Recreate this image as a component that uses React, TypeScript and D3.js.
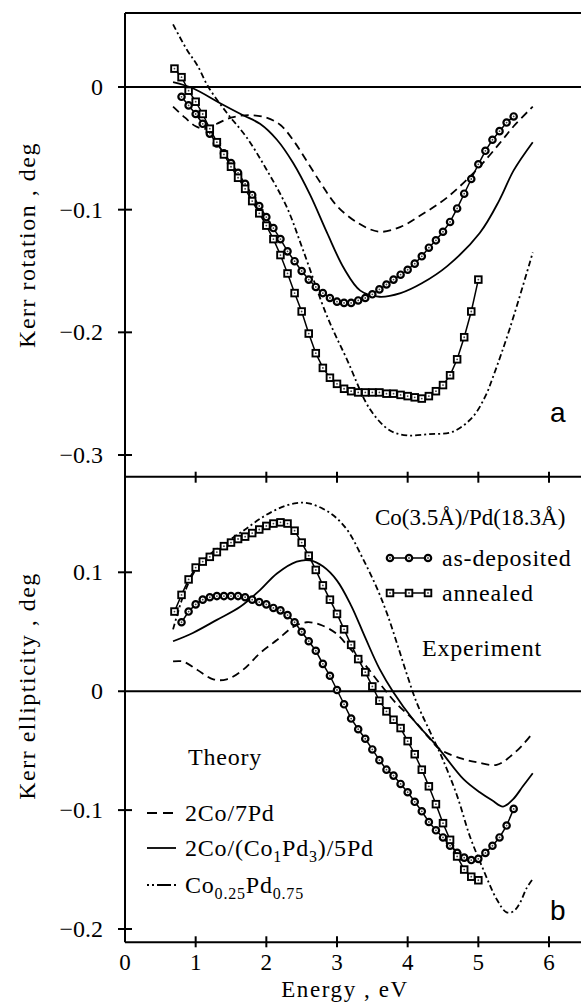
import React from "react";
import * as d3 from "d3";

const W = 581;
const H = 1002;

const xTicks = [0, 1, 2, 3, 4, 5, 6];
const rotTicks = [0, -0.1, -0.2, -0.3];
const ellTicks = [0.1, 0, -0.1, -0.2];

// Experiment, Co(3.5Å)/Pd(18.3Å): photon energy (eV)
const depEnergy = [0.8, 0.9, 1.0, 1.1, 1.2, 1.3, 1.4, 1.5, 1.6, 1.7, 1.8, 1.9, 2.0, 2.1, 2.2, 2.3, 2.4, 2.5, 2.6, 2.7, 2.8, 2.9, 3.0, 3.1, 3.2, 3.3, 3.4, 3.5, 3.6, 3.7, 3.8, 3.9, 4.0, 4.1, 4.2, 4.3, 4.4, 4.5, 4.6, 4.7, 4.8, 4.9, 5.0, 5.1, 5.2, 5.3, 5.4, 5.5];
const annEnergy = [0.7, 0.8, 0.9, 1.0, 1.1, 1.2, 1.3, 1.4, 1.5, 1.6, 1.7, 1.8, 1.9, 2.0, 2.1, 2.2, 2.3, 2.4, 2.5, 2.6, 2.7, 2.8, 2.9, 3.0, 3.1, 3.2, 3.3, 3.4, 3.5, 3.6, 3.7, 3.8, 3.9, 4.0, 4.1, 4.2, 4.3, 4.4, 4.5, 4.6, 4.7, 4.8, 4.9, 5.0];

// Kerr rotation (deg)
const rotDeposited = [-0.008, -0.015, -0.022, -0.030, -0.038, -0.046, -0.054, -0.062, -0.070, -0.079, -0.088, -0.097, -0.106, -0.115, -0.124, -0.134, -0.142, -0.150, -0.157, -0.163, -0.168, -0.172, -0.175, -0.176, -0.176, -0.174, -0.172, -0.169, -0.165, -0.161, -0.157, -0.153, -0.149, -0.144, -0.138, -0.131, -0.125, -0.118, -0.110, -0.099, -0.087, -0.075, -0.063, -0.052, -0.043, -0.036, -0.029, -0.024];
const rotAnnealed = [0.015, 0.008, -0.003, -0.012, -0.022, -0.034, -0.045, -0.055, -0.065, -0.074, -0.083, -0.093, -0.103, -0.113, -0.124, -0.137, -0.152, -0.168, -0.183, -0.201, -0.217, -0.229, -0.237, -0.242, -0.246, -0.248, -0.249, -0.249, -0.249, -0.249, -0.250, -0.250, -0.251, -0.252, -0.253, -0.254, -0.252, -0.248, -0.243, -0.235, -0.222, -0.204, -0.183, -0.157];

// Kerr ellipticity (deg)
const ellDeposited = [0.058, 0.067, 0.073, 0.077, 0.079, 0.080, 0.080, 0.080, 0.080, 0.079, 0.077, 0.075, 0.073, 0.070, 0.068, 0.064, 0.058, 0.050, 0.042, 0.034, 0.023, 0.013, 0.001, -0.011, -0.023, -0.032, -0.040, -0.049, -0.058, -0.066, -0.071, -0.078, -0.085, -0.093, -0.101, -0.110, -0.117, -0.123, -0.130, -0.136, -0.140, -0.142, -0.141, -0.136, -0.130, -0.123, -0.113, -0.099];
const ellAnnealed = [0.067, 0.081, 0.094, 0.104, 0.109, 0.113, 0.117, 0.122, 0.125, 0.128, 0.130, 0.133, 0.136, 0.139, 0.141, 0.142, 0.141, 0.135, 0.125, 0.114, 0.102, 0.089, 0.077, 0.065, 0.052, 0.039, 0.027, 0.016, 0.004, -0.008, -0.017, -0.024, -0.031, -0.042, -0.053, -0.066, -0.080, -0.095, -0.111, -0.125, -0.139, -0.150, -0.156, -0.159];

// Theory: [energy, value]
const rot2Co7Pd: [number, number][] = [[0.68, -0.016], [0.85, -0.025], [1.0, -0.032], [1.15, -0.034], [1.3, -0.03], [1.5, -0.025], [1.75, -0.023], [2.0, -0.025], [2.2, -0.031], [2.4, -0.045], [2.6, -0.063], [2.8, -0.081], [3.0, -0.097], [3.3, -0.111], [3.6, -0.118], [3.9, -0.114], [4.2, -0.104], [4.56, -0.09], [5.0, -0.066], [5.3, -0.046], [5.5, -0.032], [5.77, -0.016]];
const rotCoPdLayer: [number, number][] = [[0.68, 0.004], [0.96, -0.001], [1.34, -0.013], [1.67, -0.023], [1.91, -0.03], [2.15, -0.043], [2.38, -0.062], [2.62, -0.088], [2.86, -0.119], [3.1, -0.148], [3.33, -0.166], [3.6, -0.171], [3.9, -0.168], [4.2, -0.16], [4.56, -0.146], [5.02, -0.119], [5.3, -0.092], [5.5, -0.068], [5.77, -0.045]];
const rotAlloy: [number, number][] = [[0.68, 0.051], [0.88, 0.03], [1.02, 0.018], [1.18, 0.0], [1.44, -0.021], [1.72, -0.041], [2.0, -0.067], [2.29, -0.098], [2.52, -0.133], [2.86, -0.187], [3.14, -0.222], [3.47, -0.263], [3.75, -0.28], [3.99, -0.284], [4.3, -0.283], [4.64, -0.281], [4.92, -0.269], [5.1, -0.252], [5.21, -0.236], [5.45, -0.196], [5.77, -0.135]];

const ell2Co7Pd: [number, number][] = [[0.68, 0.025], [0.82, 0.025], [1.02, 0.018], [1.25, 0.01], [1.44, 0.01], [1.67, 0.018], [1.91, 0.032], [2.15, 0.043], [2.38, 0.054], [2.57, 0.058], [2.76, 0.056], [3.0, 0.048], [3.18, 0.036], [3.4, 0.022], [3.61, 0.006], [3.85, -0.011], [4.08, -0.024], [4.3, -0.039], [4.46, -0.049], [4.78, -0.057], [5.0, -0.06], [5.26, -0.062], [5.45, -0.055], [5.63, -0.045], [5.77, -0.035]];
const ellCoPdLayer: [number, number][] = [[0.68, 0.042], [0.96, 0.049], [1.3, 0.06], [1.63, 0.071], [1.91, 0.085], [2.15, 0.099], [2.43, 0.109], [2.62, 0.11], [2.8, 0.105], [3.0, 0.093], [3.2, 0.072], [3.4, 0.045], [3.6, 0.019], [3.8, -0.001], [4.08, -0.024], [4.41, -0.046], [4.79, -0.074], [5.02, -0.085], [5.2, -0.092], [5.35, -0.097], [5.49, -0.091], [5.63, -0.08], [5.77, -0.069]];
const ellAlloy: [number, number][] = [[0.68, 0.052], [0.8, 0.076], [0.9, 0.091], [1.0, 0.102], [1.2, 0.115], [1.5, 0.128], [1.7, 0.136], [1.91, 0.145], [2.15, 0.153], [2.4, 0.158], [2.6, 0.158], [2.9, 0.15], [3.14, 0.136], [3.37, 0.111], [3.57, 0.086], [3.71, 0.065], [3.85, 0.04], [3.99, 0.014], [4.13, -0.01], [4.3, -0.032], [4.48, -0.055], [4.7, -0.088], [4.88, -0.122], [5.07, -0.15], [5.26, -0.175], [5.4, -0.186], [5.5, -0.185], [5.59, -0.178], [5.68, -0.166], [5.77, -0.158]];

const SERIF = "'Liberation Serif', 'Times New Roman', serif";
const SANS = "'Liberation Sans', Arial, sans-serif";
const DASH = "8,5";
const DASHDOT = "6,3,2,3";

const x = d3.scaleLinear().domain([0, 6]).range([125, 549]);
const yRot = d3.scaleLinear().domain([-0.3, 0]).range([455, 87]);
const yEll = d3.scaleLinear().domain([-0.2, 0.1]).range([929, 572.3]);

const LEFT = 125;
const TOP = 13;
const MID = 476.7;
const BOTTOM = 942.3;

const fmt = (v: number) => (v < 0 ? "\u2212" + Math.abs(v) : String(v));

function Circle({ cx, cy }: { cx: number; cy: number }) {
  return (
    <g>
      <circle cx={cx} cy={cy} r={3.2} fill="#fff" stroke="#000" strokeWidth={2.2} />
      <circle cx={cx} cy={cy} r={0.9} fill="#444" />
    </g>
  );
}

function Square({ cx, cy }: { cx: number; cy: number }) {
  return (
    <g>
      <rect x={cx - 3.3} y={cy - 3.3} width={6.6} height={6.6} fill="#fff" stroke="#000" strokeWidth={1.9} />
      <circle cx={cx} cy={cy} r={0.9} fill="#444" />
    </g>
  );
}

function Theory({ data, y, dash }: { data: [number, number][]; y: d3.ScaleLinear<number, number>; dash?: string }) {
  const line = d3
    .line<[number, number]>()
    .x((d) => x(d[0]))
    .y((d) => y(d[1]))
    .curve(d3.curveCatmullRom.alpha(0.5));
  return <path d={line(data) || ""} fill="none" stroke="#000" strokeWidth={1.8} strokeDasharray={dash} />;
}

function Experiment({ energy, values, y, kind }: { energy: number[]; values: number[]; y: d3.ScaleLinear<number, number>; kind: "circle" | "square" }) {
  const pts: [number, number][] = energy.map((e, i) => [x(e), y(values[i])]);
  const line = d3.line();
  return (
    <g>
      <path d={line(pts) || ""} fill="none" stroke="#000" strokeWidth={1.5} />
      {pts.map(([px, py], i) =>
        kind === "circle" ? <Circle key={i} cx={px} cy={py} /> : <Square key={i} cx={px} cy={py} />
      )}
    </g>
  );
}

function YAxis({ ticks, y }: { ticks: number[]; y: d3.ScaleLinear<number, number> }) {
  return (
    <g>
      {ticks.map((t) => (
        <g key={t}>
          <line x1={118} x2={t === 0 ? W : 132} y1={y(t)} y2={y(t)} stroke="#000" strokeWidth={2} />
          <text x={103} y={y(t) + 8} textAnchor="end" fontFamily={SERIF} fontSize={24}>
            {fmt(t)}
          </text>
        </g>
      ))}
    </g>
  );
}

export default function App() {
  return (
    <svg width={W} height={H} style={{ position: "absolute", left: 0, top: 0, background: "#fff" }}>
      <rect x={0} y={0} width={W} height={H} fill="#fff" />

      {/* frame */}
      <line x1={LEFT} x2={W} y1={TOP} y2={TOP} stroke="#000" strokeWidth={2} />
      <line x1={LEFT} x2={W} y1={MID} y2={MID} stroke="#000" strokeWidth={2} />
      <line x1={LEFT} x2={W} y1={BOTTOM} y2={BOTTOM} stroke="#000" strokeWidth={2} />
      <line x1={LEFT} x2={LEFT} y1={TOP} y2={BOTTOM} stroke="#000" strokeWidth={2} />

      {xTicks.slice(1).map((t) => (
        <g key={t}>
          <line x1={x(t)} x2={x(t)} y1={MID - 5} y2={MID + 6} stroke="#000" strokeWidth={2} />
          <line x1={x(t)} x2={x(t)} y1={BOTTOM - 6} y2={BOTTOM + 5} stroke="#000" strokeWidth={2} />
        </g>
      ))}
      {xTicks.map((t) => (
        <text key={t} x={x(t)} y={970} textAnchor="middle" fontFamily={SERIF} fontSize={23}>
          {t}
        </text>
      ))}
      <text x={345} y={997} textAnchor="middle" fontFamily={SERIF} fontSize={23} letterSpacing={1.6}>
        Energy , eV
      </text>

      <YAxis ticks={rotTicks} y={yRot} />
      <YAxis ticks={ellTicks} y={yEll} />

      <text transform="translate(35,245) rotate(-90)" textAnchor="middle" fontFamily={SERIF} fontSize={24} letterSpacing={1.5}>
        Kerr rotation , deg
      </text>
      <text transform="translate(35,686) rotate(-90)" textAnchor="middle" fontFamily={SERIF} fontSize={24} letterSpacing={1.5}>
        Kerr ellipticity , deg
      </text>

      {/* panel a: rotation */}
      <Theory data={rot2Co7Pd} y={yRot} dash={DASH} />
      <Theory data={rotCoPdLayer} y={yRot} />
      <Theory data={rotAlloy} y={yRot} dash={DASHDOT} />
      <Experiment energy={depEnergy} values={rotDeposited} y={yRot} kind="circle" />
      <Experiment energy={annEnergy} values={rotAnnealed} y={yRot} kind="square" />
      <text x={550} y={422} fontFamily={SANS} fontSize={28}>a</text>

      {/* panel b: ellipticity */}
      <Theory data={ell2Co7Pd} y={yEll} dash={DASH} />
      <Theory data={ellCoPdLayer} y={yEll} />
      <Theory data={ellAlloy} y={yEll} dash={DASHDOT} />
      <Experiment energy={depEnergy} values={ellDeposited} y={yEll} kind="circle" />
      <Experiment energy={annEnergy} values={ellAnnealed} y={yEll} kind="square" />
      <text x={550} y={920} fontFamily={SANS} fontSize={28}>b</text>

      {/* experiment legend */}
      <text x={375} y={525} fontFamily={SERIF} fontSize={23}>Co(3.5Å)/Pd(18.3Å)</text>
      <line x1={390} x2={428} y1={558} y2={558} stroke="#000" strokeWidth={1.5} />
      {[390, 409, 428].map((cx) => <Circle key={cx} cx={cx} cy={558} />)}
      <text x={442} y={566} fontFamily={SERIF} fontSize={24} letterSpacing={0.8}>as-deposited</text>
      <line x1={390} x2={428} y1={593} y2={593} stroke="#000" strokeWidth={1.5} />
      {[390, 409, 428].map((cx) => <Square key={cx} cx={cx} cy={593} />)}
      <text x={442} y={601} fontFamily={SERIF} fontSize={24} letterSpacing={0.8}>annealed</text>
      <text x={422} y={656} fontFamily={SERIF} fontSize={24} letterSpacing={0.8}>Experiment</text>

      {/* theory legend */}
      <text x={188} y={765} fontFamily={SERIF} fontSize={24} letterSpacing={0.8}>Theory</text>
      <line x1={147} x2={176} y1={813} y2={813} stroke="#000" strokeWidth={1.8} strokeDasharray="10,6" />
      <text x={185} y={821} fontFamily={SERIF} fontSize={24} letterSpacing={0.8}>2Co/7Pd</text>
      <line x1={147} x2={176} y1={848} y2={848} stroke="#000" strokeWidth={1.8} />
      <text x={185} y={856} fontFamily={SERIF} fontSize={24} letterSpacing={0.8}>
        2Co/(Co<tspan fontSize={16} dy={6}>1</tspan>
        <tspan dy={-6}>Pd</tspan>
        <tspan fontSize={16} dy={6}>3</tspan>
        <tspan dy={-6}>)/5Pd</tspan>
      </text>
      <line x1={147} x2={176} y1={885} y2={885} stroke="#000" strokeWidth={1.8} strokeDasharray="2,3,2,3,12,0" />
      <text x={185} y={893} fontFamily={SERIF} fontSize={24} letterSpacing={0.8}>
        Co<tspan fontSize={16} dy={6}>0.25</tspan>
        <tspan dy={-6}>Pd</tspan>
        <tspan fontSize={16} dy={6}>0.75</tspan>
      </text>
    </svg>
  );
}
